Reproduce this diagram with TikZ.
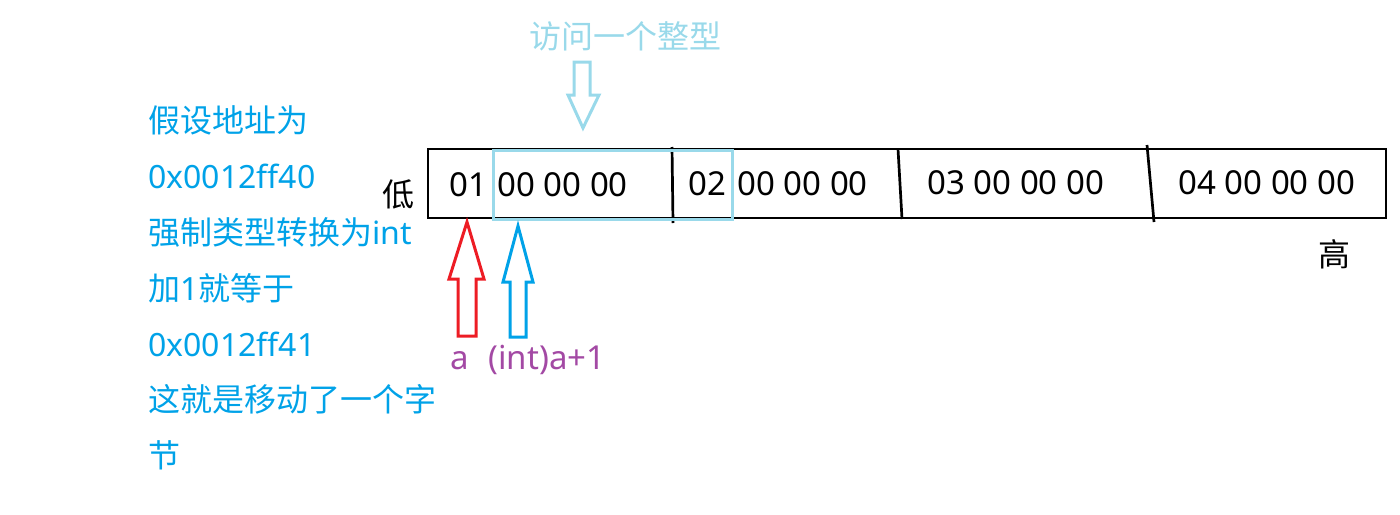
\documentclass[tikz,border=0pt]{standalone}
\usepackage{fontspec}
\setmainfont{Noto Sans}
\newfontfamily\cjk{Noto Sans CJK SC}
\usetikzlibrary{positioning}
\definecolor{cNote}{HTML}{00A2E8}
\definecolor{cAccess}{HTML}{99D9EA}
\definecolor{cPtr}{HTML}{ED1C24}
\definecolor{cLbl}{HTML}{A349A4}
\tikzset{
  note/.style={anchor=base west,inner sep=0pt,text=cNote,
               font=\fontsize{16pt}{19pt}\selectfont},
  byte/.style={anchor=base west,inner sep=0pt,
               font=\fontsize{16.5pt}{20pt}\selectfont},
  endlbl/.style={inner sep=0pt,font=\cjk\fontsize{16pt}{19pt}\selectfont},
  ptrlbl/.style={anchor=base west,inner sep=0pt,text=cLbl,
                 font=\fontsize{16.5pt}{19pt}\selectfont},
  mem/.style={draw,line width=1.35pt,minimum width=479pt,minimum height=34.5pt,
              inner sep=0pt},
  divider/.style={line width=1.35pt},
  access/.style={draw=cAccess,line width=1.5pt},
  hollow/.style={draw=#1,line width=1.5pt,line join=miter},
}

\begin{document}
\begin{tikzpicture}[x=0.5pt,y=-0.5pt]
\useasboundingbox (0,0) rectangle (1400,514);

% ---------------------------------------------------------------- left notes
\node[note] (l1) at (148,132) {{\cjk 假设地址为}};
\node[note] (l2) at (148,188) {0x0012ff40};
\node[note] (l3) at (148,244) {{\cjk 强制类型转换为}int};
\node[note] (l4) at (148,300) {{\cjk 加}1{\cjk 就等于}};
\node[note] (l5) at (148,356) {0x0012ff41};
\node[note] (l6) at (148,411) {{\cjk 这就是移动了一个字}};
\node[note] (l7) at (148,467) {{\cjk 节}};

% ---------------------------------------------------------------- memory
\node[mem] (row) at (907,183.5) {};
\draw[divider] (672,147) -- (673,223);
\draw[divider] (898,149) -- (902,219);
\draw[divider] (1147,145) -- (1154,222);
\draw[access] (493,150) rectangle (732,219);

\node[byte] (b1)  at (449,196) {01};
\node[byte] (b1r) at (497,196) {00 00 00};
\node[byte] (b2)  at (688,195) {02};
\node[byte] (b2r) at (737,195) {00 00 00};
\node[byte] (b3)  at (927,194) {03 00 00 00};
\node[byte] (b4)  at (1178,194) {04 00 00 00};

\node[endlbl] (lo) at (398,194) {低};
\node[endlbl] (hi) at (1334,254) {高};

% ---------------------------------------------------------------- access
\node[endlbl,text=cAccess] (acc) at (625,36) {访问一个整型};
\draw[hollow=cAccess] (574,62) -- (590,62) -- (590,95) -- (599,95)
  -- (583,128) -- (568,95) -- (574,95) -- cycle;

% ---------------------------------------------------------------- pointers
\draw[hollow=cPtr] (467,222) -- (484,279) -- (476,279) -- (476,336)
  -- (458,336) -- (458,279) -- (449,279) -- cycle;
\draw[hollow=cNote] (518,226) -- (533,282) -- (526,282) -- (526,337)
  -- (510,337) -- (510,282) -- (503,282) -- cycle;

\node[ptrlbl] (pa) at (450,369) {a};
\node[ptrlbl] (pb) at (488,369) {(int)a+1};

\end{tikzpicture}
\end{document}
